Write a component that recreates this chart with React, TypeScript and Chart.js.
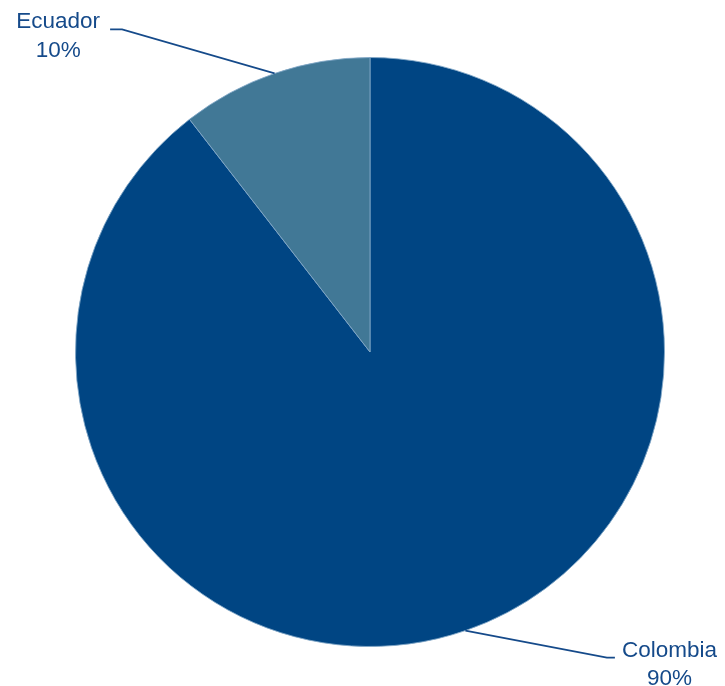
import React, { useEffect, useRef } from "react";
import { Chart, registerables } from "chart.js";

Chart.register(...registerables);

const categories = ["Colombia", "Ecuador"];
const shares = [89.5, 10.5];
const percentLabels = ["90%", "10%"];

const sliceColors = ["#004583", "#417896"];
const textColor = "#154a8a";

const leaderPlugin = {
  id: "leaderLabels",
  afterDatasetsDraw(chart: any, _args: any, opts: any) {
    const ctx = chart.ctx;
    const meta = chart.getDatasetMeta(0);
    const labels = chart.data.labels as string[];
    ctx.save();
    ctx.font = opts.font;
    ctx.fillStyle = opts.color;
    ctx.strokeStyle = opts.color;
    ctx.lineWidth = 1.6;
    ctx.textBaseline = "alphabetic";
    meta.data.forEach((arc: any, i: number) => {
      const p = arc.getProps(["x", "y", "startAngle", "endAngle", "outerRadius"], true);
      const mid = (p.startAngle + p.endAngle) / 2;
      const ex = p.x + Math.cos(mid) * p.outerRadius;
      const ey = p.y + Math.sin(mid) * p.outerRadius;
      const o = opts.offsets[i];
      const bx = ex + o.dx;
      const by = ey + o.dy;
      const dir = o.dx < 0 ? -1 : 1;
      const hx = bx + dir * o.tail;
      ctx.beginPath();
      ctx.moveTo(ex, ey);
      ctx.lineTo(bx, by);
      ctx.lineTo(hx, by);
      ctx.stroke();
      const lines = [labels[i], percentLabels[i]];
      const w = Math.max(...lines.map((l) => ctx.measureText(l).width));
      const cx = dir < 0 ? hx - o.gap - w / 2 : hx + o.gap + w / 2;
      ctx.textAlign = "center";
      lines.forEach((l, k) => {
        ctx.fillText(l, cx, by + o.baseShift + k * opts.lineHeight);
      });
    });
    ctx.restore();
  },
};

export default function App() {
  const ref = useRef<HTMLCanvasElement | null>(null);
  useEffect(() => {
    document.body.style.margin = "0";
    const chart = new Chart(ref.current as HTMLCanvasElement, {
      type: "pie",
      data: {
        labels: categories,
        datasets: [
          {
            data: shares,
            backgroundColor: sliceColors,
            borderColor: "rgba(130,168,200,0.85)",
            borderWidth: 1,
          },
        ],
      },
      options: {
        animation: false,
        responsive: false,
        maintainAspectRatio: false,
        layout: { padding: { left: 75, right: 60, top: 57, bottom: 39 } },
        plugins: {
          legend: { display: false },
          tooltip: { enabled: false },
          leaderLabels: {
            font: '22.5px "Liberation Sans", Arial, sans-serif',
            color: textColor,
            lineHeight: 28.5,
            offsets: [
              { dx: 141.5, dy: 27, tail: 8, gap: 7, baseShift: -1 },
              { dx: -152.5, dy: -44, tail: 12, gap: 10, baseShift: -1 },
            ],
          },
        } as any,
      },
      plugins: [leaderPlugin],
    });
    return () => chart.destroy();
  }, []);
  return (
    <div style={{ position: "absolute", left: 0, top: 0, width: 725, height: 686 }}>
      <canvas ref={ref} width={725} height={686} style={{ width: 725, height: 686, display: "block" }} />
    </div>
  );
}
